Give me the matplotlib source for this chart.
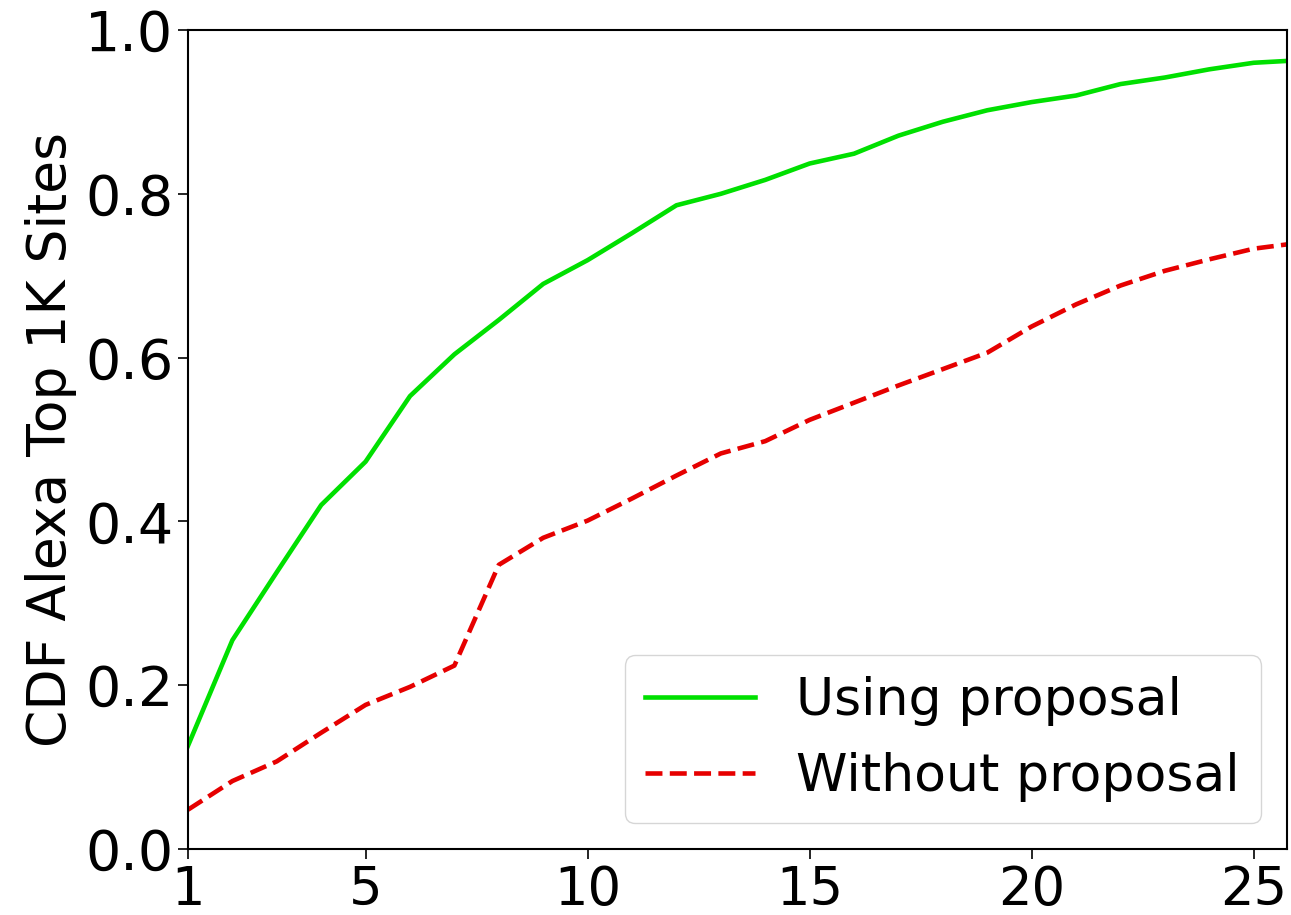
import matplotlib
matplotlib.use("Agg")
import matplotlib.pyplot as plt

# ==================== DATA ====================
x_vals = list(range(1, 27))
using_proposal = [0.126, 0.255, 0.338, 0.420, 0.473, 0.553, 0.604, 0.646, 0.690, 0.719,
                  0.752, 0.786, 0.800, 0.817, 0.837, 0.849, 0.871, 0.888, 0.902, 0.912,
                  0.920, 0.934, 0.942, 0.952, 0.960, 0.963]
without_proposal = [0.048, 0.083, 0.107, 0.142, 0.176, 0.198, 0.224, 0.347, 0.380, 0.401,
                    0.428, 0.456, 0.483, 0.498, 0.524, 0.545, 0.566, 0.586, 0.606, 0.638,
                    0.665, 0.688, 0.706, 0.720, 0.733, 0.740]
x_ticks = [1, 5, 10, 15, 20, 25]
y_ticks = [0.0, 0.2, 0.4, 0.6, 0.8, 1.0]

# ==================== PLOT ====================
plt.rcParams['font.family'] = 'DejaVu Sans'

fig = plt.figure(figsize=(12.91, 9.15), dpi=100)
ax = fig.add_axes([0.1456, 0.0721, 0.8513, 0.8951])

ax.plot(x_vals, using_proposal, color='#00e000', linewidth=3.3, label='Using proposal')
ax.plot(x_vals, without_proposal, color='#e60000', linewidth=3.3, linestyle='--',
        label='Without proposal')

ax.set_xlim(1, 25.75)
ax.set_ylim(0, 1.0)
ax.set_xticks(x_ticks)
ax.set_yticks(y_ticks)
ax.set_yticklabels([f"{v:.1f}" for v in y_ticks])
ax.tick_params(axis='x', labelsize=38, length=7, width=1.2)
ax.tick_params(axis='y', labelsize=40, length=7, width=1.2)
for s in ax.spines.values():
    s.set_linewidth(1.5)

ax.set_ylabel('CDF Alexa Top 1K Sites', fontsize=38.5, labelpad=6)
ax.legend(loc='lower right', fontsize=37.5, handlelength=2.1)

plt.savefig('out.png', dpi=100)
plt.close()
